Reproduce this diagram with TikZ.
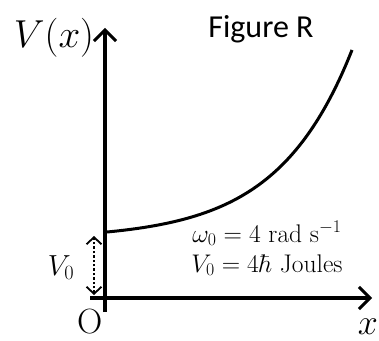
\documentclass[tikz,border=0pt]{standalone}
\usepackage{fix-cm}
\usepackage{fontspec}
\newfontfamily\figfont{Carlito}
\usetikzlibrary{arrows.meta}
\begin{document}
\begin{tikzpicture}[x=1pt,y=1pt,
  axisline/.style={line width=3.6pt, -{Straight Barb[length=11pt,width=22pt,line width=3pt]}},
  curveline/.style={line width=3pt},
  dotarrow/.style={line width=2.6pt, dash pattern=on 2.4pt off 2pt,
     {Straight Barb[length=7pt,width=15pt,line width=1.8pt]}-{Straight Barb[length=7pt,width=15pt,line width=1.8pt]}},
  lbl/.style={inner sep=0pt, anchor=base}]
\useasboundingbox (0,0) rectangle (379,340);
\coordinate (ybot) at (105,28);
\coordinate (ytop) at (105,312);
\coordinate (xleft) at (90,42);
\coordinate (xright) at (372,42);
\coordinate (dtop) at (94,104);
\coordinate (dbot) at (94,45);
\draw[axisline] (ybot) -- (ytop);
\draw[axisline] (xleft) -- (xright);
\draw[curveline] plot[domain=0:245, samples=80] ({107+\x}, {108+7.1*(exp(0.0134*\x)-1)});
\draw[dotarrow] (dbot) -- (dtop);
\node[lbl] (vx) at (54,292) {\fontsize{39}{40}\selectfont $V(x)$};
\node[lbl] (fig) at (261,302) {\fontsize{32}{34}\selectfont\figfont Figure R};
\node[lbl] (orig) at (90,7) {\fontsize{35}{36}\selectfont O};
\node[lbl] (xl) at (368,6) {\fontsize{36}{38}\selectfont $x$};
\node[lbl] (v0) at (61,65) {\fontsize{29}{30}\selectfont $V_0$};
\node[inner sep=0pt, anchor=base, align=center, font=\fontsize{25.5}{30}\selectfont] (info) at (267,68)
  {$\omega_0 = 4\ \mathrm{rad\ s^{-1}}$\\ $V_0 = 4\hbar$ Joules};
\end{tikzpicture}
\end{document}
